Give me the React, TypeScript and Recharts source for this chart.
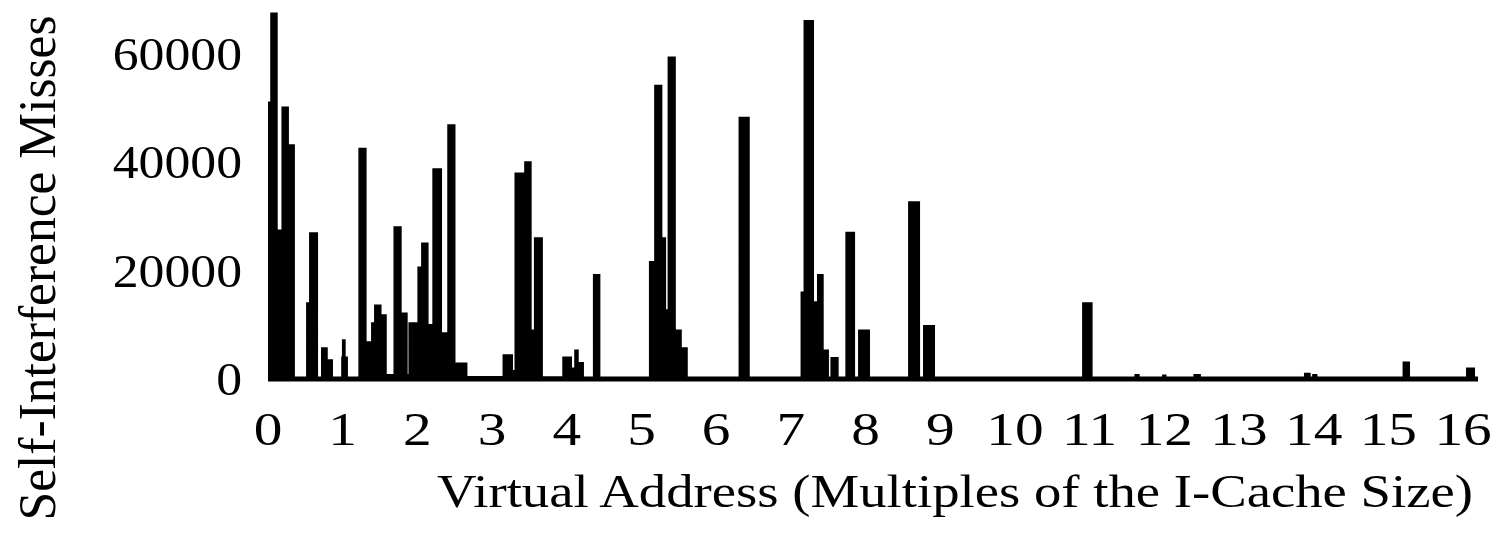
import { AreaChart, Area, XAxis, YAxis, Label } from "recharts";

// segment starts along the address axis (multiples of the I-cache size); each level holds until the next start
const addresses = [
  0, 0.01, 0.04, 0.12, 0.19, 0.27, 0.35, 0.52, 0.56, 0.66, 0.72, 0.79, 0.86, 0.99, 1.0, 1.03, 1.06,
  1.22, 1.31, 1.39, 1.43, 1.51, 1.58, 1.69, 1.78, 1.86, 1.89, 2.01, 2.06, 2.14, 2.21, 2.32, 2.41,
  2.5, 2.66, 3.15, 3.27, 3.31, 3.44, 3.52, 3.57, 3.67, 3.95, 4.06, 4.11, 4.15, 4.22, 4.36, 4.44,
  5.11, 5.18, 5.27, 5.32, 5.36, 5.45, 5.53, 5.61, 6.31, 6.44, 7.14, 7.18, 7.3, 7.36, 7.43, 7.5,
  7.54, 7.63, 7.74, 7.85, 7.91, 8.05, 8.58, 8.72, 8.78, 8.92, 10.91, 11.03, 11.61, 11.66, 11.98,
  12.02, 12.4, 12.48, 13.88, 13.95, 13.99, 14.04, 15.2, 15.28, 16.05, 16.15, 16.2,
];

const misses = [
  0, 51000, 67400, 27400, 50100, 43100, 0, 14000, 26900, 0, 5700, 3500, 0, 4000, 7200, 4000, 0,
  42500, 6800, 10300, 13600, 11800, 800, 28000, 12100, 800, 10300, 20600, 25000, 10000, 38700, 8500, 46800,
  2900, 400, 4400, 1500, 37900, 40000, 9000, 26000, 300, 4000, 2000, 5300, 3000, 0, 19200, 0,
  21600, 54100, 26000, 12700, 59300, 9000, 5700, 0, 48200, 0, 16000, 66000, 14200, 19200, 5300, 0,
  3900, 0, 27000, 0, 9000, 0, 32600, 0, 9800, 0, 14000, 0, 800, 0, 700,
  0, 800, 0, 1000, 0, 800, 0, 3100, 0, 2000, 0, 0,
];

const xTicks = [0, 1, 2, 3, 4, 5, 6, 7, 8, 9, 10, 11, 12, 13, 14, 15, 16];
const yTicks = [0, 20000, 40000, 60000];

const data = addresses.map((x, i) => ({ x, misses: misses[i] }));

const FONT = "'Liberation Serif', 'Times New Roman', Times, serif";

function XTick({ x, y, payload }: any) {
  return (
    <g transform={`translate(${x},${y})`}>
      <text transform="scale(1.22,1)" textAnchor="middle" dy="0.71em" fill="#000" style={{ fontFamily: FONT, fontSize: 47 }}>
        {payload.value}
      </text>
    </g>
  );
}

function YTick({ x, y, payload }: any) {
  return (
    <g transform={`translate(${x},${y})`}>
      <text transform="scale(1.1,1)" textAnchor="end" dy="0.35em" fill="#000" style={{ fontFamily: FONT, fontSize: 47 }}>
        {payload.value}
      </text>
    </g>
  );
}

export default function App() {
  return (
    <div style={{ position: "absolute", left: 0, top: 0, width: 1500, height: 535, background: "#fff", fontFamily: FONT }}>
      <AreaChart width={1500} height={535} data={data} margin={{ top: 10, right: 22, bottom: 0, left: 0 }}>
        <XAxis
          dataKey="x"
          type="number"
          domain={[0, 16.2]}
          ticks={xTicks}
          allowDataOverflow
          height={156}
          tickLine={false}
          tickSize={0}
          tickMargin={33}
          tick={<XTick />}
          axisLine={{ stroke: "#000", strokeWidth: 5 }}
        >
          <Label
            content={() => (
              <text
                x={955}
                y={507}
                textAnchor="middle"
                fill="#000"
                style={{ fontFamily: FONT, fontSize: 47 }}
                textLength={1036}
                lengthAdjust="spacingAndGlyphs"
              >
                Virtual Address (Multiples of the I-Cache Size)
              </text>
            )}
          />
        </XAxis>
        <YAxis
          type="number"
          domain={[0, 68000]}
          ticks={yTicks}
          allowDataOverflow
          width={268}
          axisLine={false}
          tickLine={false}
          tickSize={0}
          tickMargin={26}
          tick={<YTick />}
        >
          <Label
            content={() => (
              <text
                transform="translate(55,268) rotate(-90)"
                textAnchor="middle"
                fill="#000"
                style={{ fontFamily: FONT, fontSize: 52 }}
                textLength={505}
                lengthAdjust="spacingAndGlyphs"
              >
                Self-Interference Misses
              </text>
            )}
          />
        </YAxis>
        <Area
          type="stepAfter"
          dataKey="misses"
          stroke="#000"
          strokeWidth={1.5}
          fill="#000"
          fillOpacity={1}
          dot={false}
          activeDot={false}
          isAnimationActive={false}
        />
      </AreaChart>
    </div>
  );
}
